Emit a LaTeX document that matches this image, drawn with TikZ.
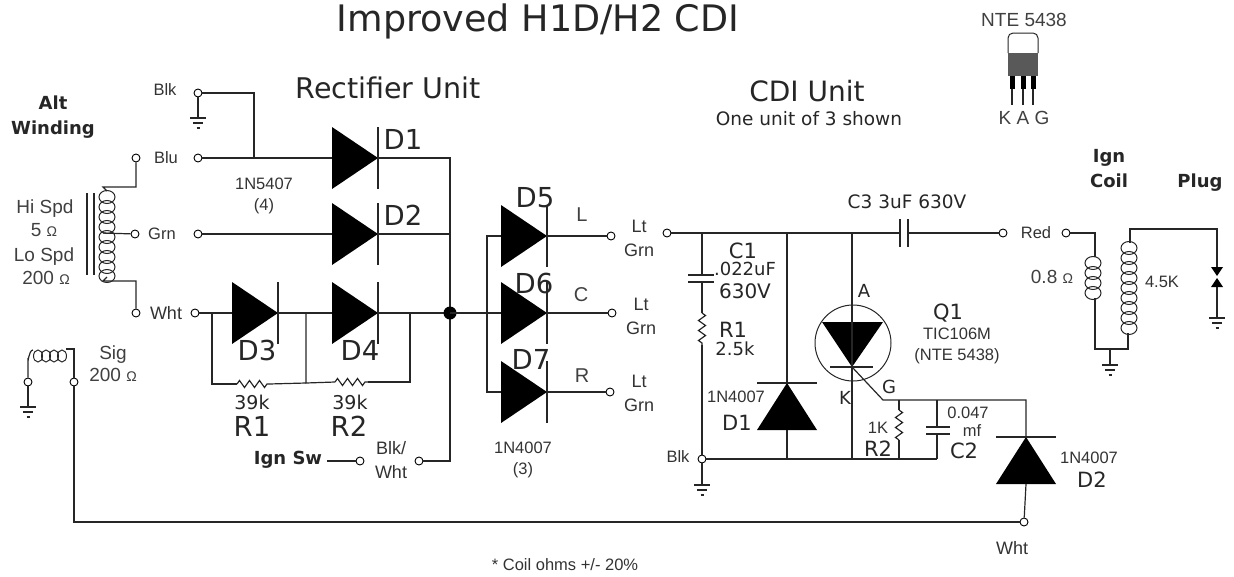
\documentclass[tikz,border=0pt]{standalone}
\usepackage{fontspec}
\setmainfont{DejaVu Sans}
\newfontfamily\msfont{Liberation Sans}
\usetikzlibrary{decorations.pathmorphing}
\newcommand{\ohms}{{\fontsize{14}{14}\selectfont Ω}}
\tikzset{
	term/.style={circle, draw, fill=white, inner sep=0pt, minimum size=8pt, line width=0.9pt},
	hilab/.style={inner sep=0pt, align=center, text=black!75, font=\msfont\fontsize{19}{19}\selectfont},
	lab/.style={inner sep=0pt, align=center, text=black!75, font=\msfont\fontsize{20}{20}\selectfont},
	small/.style={inner sep=0pt, align=center, text=black!80, font=\msfont\fontsize{16.5}{21}\selectfont},
	wirelab/.style={inner sep=0pt, align=center, text=black!80, font=\msfont\fontsize{18}{24}\selectfont},
	part/.style={inner sep=0pt, align=center, text=black!85, font=\fontsize{18}{20}\selectfont},
	mid/.style={inner sep=0pt, align=center, text=black!85, font=\fontsize{21}{21}\selectfont},
	big/.style={inner sep=0pt, align=center, text=black!85, font=\fontsize{27.5}{27}\selectfont},
	head/.style={inner sep=0pt, align=center, text=black!85, font=\bfseries\fontsize{18}{25}\selectfont},
	wire/.style={line width=1.2pt, black!85},
	coilw/.style={line width=1pt, black!85},
	res/.style={wire, decorate, decoration={zigzag, segment length=10pt, amplitude=3.5pt}},
	plate/.style={line width=1.3pt, black!85}
}
\begin{document}
\begin{tikzpicture}[x=1pt, y=-1pt]
	\useasboundingbox (0,0) rectangle (1234,576);

	% Titles
	\node[inner sep=0pt, text=black!85, font=\fontsize{36.5}{36}\selectfont] (title) at (538,21) {Improved H1D/H2 CDI};
	\node[inner sep=0pt, text=black!85, font=\fontsize{28.5}{28}\selectfont] (rectunit) at (388,88) {Rectifier Unit};
	\node[inner sep=0pt, text=black!85, font=\fontsize{28}{28}\selectfont] (cdiunit) at (807,91) {CDI Unit};
	\node[part, font=\fontsize{18.5}{20}\selectfont] (oneunit) at (809,119) {One unit of 3 shown};
	\node[head] (alt) at (53,117) {Alt\\Winding};
	\node[head] (igncoil) at (1109,169) {Ign\\Coil};
	\node[head] (plug) at (1200,183) {Plug};

	% Terminals
	\foreach \n/\x/\y in {blka/198/93, blua/136/158, blub/198/158, grna/135/234, grnb/198/234,
			whta/136/313, whtb/195/313, siga/28/382, sigb/74/382, swa/360/461, swb/419/461,
			outl/611/236, outc/612/313, outr/610/392, ltgrn/667/233, blkc/702/459,
			reda/1003/233, redb/1066/233, whtc/1024/522} {
		\node[term] (\n) at (\x,\y) {};
	}

	% Diodes pointing right
	\foreach \n/\x/\y in {da/332/158, db/332/234, dc/232/313, dd/332/313,
			de/501/236, df/501/313, dg/501/392} {
		\fill[black] (\x,\y-31) -- (\x+46,\y) -- (\x,\y+31) -- cycle;
		\draw[plate] (\x+46,\y-31) -- (\x+46,\y+31);
		\coordinate (\n-in) at (\x,\y);
		\coordinate (\n-out) at (\x+46,\y);
	}

	% Diodes pointing up
	\foreach \n/\x/\y in {dh/787/383, di/1026/437} {
		\fill[black] (\x,\y) -- (\x+30,\y+47) -- (\x-30,\y+47) -- cycle;
		\draw[plate] (\x-30,\y) -- (\x+30,\y);
		\coordinate (\n-in) at (\x,\y+47);
		\coordinate (\n-out) at (\x,\y);
	}

	% Grounds
	\foreach \n/\x/\y in {ga/198/118, gb/28/407, gc/702/485, gd/1110/365, ge/1217/318} {
		\coordinate (\n) at (\x,\y);
		\draw[plate] (\x-8,\y) -- (\x+8,\y);
		\draw[plate] (\x-5,\y+5) -- (\x+5,\y+5);
		\draw[plate] (\x-1.5,\y+10) -- (\x+1.5,\y+10);
	}

	% Rectifier wiring
	\coordinate (blkjoin) at (254,158);
	\coordinate (bus) at (450,313);
	\coordinate (bustop) at (450,158);
	\coordinate (busmid) at (450,234);
	\coordinate (busend) at (450,461);
	\coordinate (sideL) at (212,313);
	\coordinate (sideM) at (306,313);
	\coordinate (sideR) at (410,313);
	\coordinate (r1a) at (237,384);
	\coordinate (r1b) at (269,384);
	\coordinate (sideMb) at (306,383);
	\coordinate (r2a) at (335,382);
	\coordinate (r2b) at (368,382);
	\coordinate (sideRb) at (410,382);
	\draw[wire] (blka) -| (blkjoin);
	\draw[wire] (blub) -- (da-in);
	\draw[wire] (grnb) -- (db-in);
	\draw[wire] (whtb) -- (dc-in);
	\draw[wire] (dc-out) -- (dd-in);
	\draw[wire] (dd-out) -- (bus);
	\draw[wire] (da-out) -- (bustop) -- (busend) -- (swb);
	\draw[wire] (db-out) -- (busmid);
	\draw[wire] (sideL) |- (r1a);
	\draw[res] (r1a) -- (r1b);
	\draw[wire] (r1b) -- (sideMb);
	\draw[wire] (sideM) -- (sideMb) -- (r2a);
	\draw[res] (r2a) -- (r2b);
	\draw[wire] (r2b) -- (sideRb) -- (sideR);
	\fill[black] (bus) circle (6.5pt);
	\draw[wire] (blka) -- (ga);
	\coordinate (swstub) at (327,461);
	\draw[wire] (swstub) -- (swa);

	% Output diodes
	\coordinate (splita) at (487,236);
	\coordinate (splitb) at (487,392);
	\draw[wire] (bus) -- (df-in);
	\draw[wire] (de-in) -- (splita) -- (splitb) -- (dg-in);
	\draw[wire] (de-out) -- (outl);
	\draw[wire] (df-out) -- (outc);
	\draw[wire] (dg-out) -- (outr);

	% Alternator winding
	\coordinate (coiltop) at (103,187);
	\coordinate (coilbot) at (103,281);
	\coordinate (coiltap) at (103,233);
	\coordinate (coilin) at (107,191);
	\coordinate (coilout) at (107,277);
	\draw[wire] (blua) |- (coiltop) -- (coilin);
	\draw[wire] (whta) |- (coilbot) -- (coilout);
	\draw[wire] (coiltap) -- (grna);
	\foreach \y in {197,207,217,227,237,247,257,267,276} {
		\draw[coilw] (107,\y) ellipse (8pt and 6.5pt);
	}
	\coordinate (corea) at (87,193);
	\coordinate (coreb) at (87,275);
	\coordinate (corec) at (94,193);
	\coordinate (cored) at (94,275);
	\draw[plate] (corea) -- (coreb);
	\draw[plate] (corec) -- (cored);

	% Signal coil
	\coordinate (sigl) at (33,350);
	\coordinate (sigr) at (74,349);
	\coordinate (siglow) at (28,360);
	\coordinate (sigrin) at (66,349);
	\draw[wire] (siga) -- (siglow) to[out=-90, in=180] (sigl);
	\draw[wire] (sigb) -- (sigr) -- (sigrin);
	\foreach \x in {38,46,54,62} {
		\draw[coilw] (\x,356) ellipse (4.5pt and 6pt);
	}
	\draw[wire] (siga) -- (gb);
	\draw[wire] (sigb) |- (whtc);

	% CDI top rail
	\coordinate (c1top) at (702,233);
	\coordinate (d1top) at (787,233);
	\coordinate (scrtop) at (852,233);
	\coordinate (c3a) at (900,233);
	\coordinate (c3b) at (908,233);
	\draw[wire] (ltgrn) -- (c3a);
	\draw[wire] (c3b) -- (reda);
	\draw[plate] (c3a) ++(0,-14) -- ++(0,28);
	\draw[plate] (c3b) ++(0,-14) -- ++(0,28);

	% C1 and R1
	\coordinate (c1a) at (702,275);
	\coordinate (c1b) at (702,282);
	\coordinate (r1ca) at (702,313);
	\coordinate (r1cb) at (702,345);
	\draw[wire] (c1top) -- (c1a);
	\draw[plate] (c1a) ++(-14,0) -- ++(26,0);
	\draw[plate] (c1b) ++(-14,0) -- ++(26,0);
	\draw[wire] (c1b) -- (r1ca);
	\draw[res] (r1ca) -- (r1cb);
	\draw[wire] (r1cb) -- (blkc);
	\draw[wire] (blkc) -- (gc);

	% Bottom rail and D1
	\coordinate (railend) at (937,459);
	\coordinate (d1bot) at (787,459);
	\coordinate (scrbot) at (852,459);
	\draw[wire] (blkc) -- (railend);
	\draw[wire] (d1top) -- (dh-out);
	\draw[wire] (dh-in) -- (d1bot);

	% Thyristor Q1
	\node[circle, draw, black!85, line width=1pt, inner sep=0pt, minimum size=76pt] (scr) at (853,343) {};
	\coordinate (scrtip) at (852,367);
	\fill[black] (822,322) -- (883,322) -- (scrtip) -- cycle;
	\draw[plate] (830,367) -- (873,367);
	\draw[wire] (scrtop) -- (scrbot);

	% Gate, R2, C2, D2
	\coordinate (gatea) at (883,400);
	\coordinate (gateend) at (1026,400);
	\coordinate (r2ctop) at (899,400);
	\coordinate (r2ca) at (899,410);
	\coordinate (r2cb) at (899,440);
	\coordinate (r2cbot) at (899,459);
	\coordinate (c2top) at (937,400);
	\coordinate (c2a) at (937,427);
	\coordinate (c2b) at (937,434);
	\draw[wire] (scrtip) -- (gatea) -- (gateend) -- (di-out);
	\draw[wire] (r2ctop) -- (r2ca);
	\draw[res] (r2ca) -- (r2cb);
	\draw[wire] (r2cb) -- (r2cbot);
	\draw[wire] (c2top) -- (c2a);
	\draw[plate] (c2a) ++(-11,0) -- ++(24,0);
	\draw[plate] (c2b) ++(-11,0) -- ++(24,0);
	\draw[wire] (c2b) -- (railend);
	\draw[wire] (di-in) -- (whtc);

	% Ignition coil
	\coordinate (pria) at (1095,257);
	\coordinate (prib) at (1095,298);
	\coordinate (prig) at (1095,349);
	\coordinate (secg) at (1128,349);
	\coordinate (secb) at (1128,333);
	\coordinate (seca) at (1130,243);
	\coordinate (sectop) at (1130,229);
	\coordinate (plugtop) at (1217,229);
	\coordinate (plugup) at (1217,267);
	\coordinate (plugdown) at (1217,287);
	\coordinate (coilgnd) at (1110,349);
	\draw[wire] (redb) -| (pria);
	\draw[wire] (prib) -- (prig) -- (secg) -- (secb);
	\draw[wire] (seca) -- (sectop) -- (plugtop) -- (plugup);
	\draw[wire] (plugdown) -- (ge);
	\draw[wire] (coilgnd) -- (gd);
	\foreach \y in {263,273,283,293} {
		\draw[coilw] (1093,\y) ellipse (8pt and 6.5pt);
	}
	\foreach \y in {248,258,268,278,288,298,308,318,328} {
		\draw[coilw] (1129,\y) ellipse (8pt and 6.5pt);
	}

	% Spark plug
	\fill[black] (1211,267) -- (1223,267) -- (1217,276) -- cycle;
	\fill[black] (1211,287) -- (1223,287) -- (1217,278) -- cycle;

	% NTE 5438 package
	\node[hilab] (nte) at (1024,20) {NTE 5438};
	\draw[line width=1pt, black!85, rounded corners=5pt] (1008,53) -- (1008,33) -- (1038,33) -- (1038,53);
	\fill[black!65] (1008,53) rectangle (1038,76);
	\foreach \n/\x in {pk/1012, pa/1023, pg/1033} {
		\fill[black] (\x-2.5,76) rectangle (\x+2.5,89);
		\draw[wire] (\x,89) -- (\x,105);
	}
	\node[hilab] (kag) at (1024,118) {K A G};

	% Wire colour labels
	\node[small] (lblk) at (165,90) {Blk};
	\node[small] (lblu) at (166,158) {Blu};
	\node[small] (lgrn) at (162,234) {Grn};
	\node[wirelab] (lwht) at (166,313) {Wht};
	\node[hilab] (hispd) at (45,209) {Hi Spd};
	\node[hilab] (hiohm) at (44,230) {5 \ohms};
	\node[hilab] (lospd) at (44,257) {Lo Spd};
	\node[hilab] (loohm) at (46,278) {200 \ohms};
	\node[hilab] (lsig) at (113,355) {Sig};
	\node[hilab] (lsigohm) at (113,375) {200 \ohms};
	\node[wirelab] (lblkw) at (391,460) {Blk/\\Wht};
	\node[head] (ignsw) at (288,460) {Ign Sw};
	\node[small] (l5407) at (264,196) {1N5407\\(4)};
	\node[small] (l4007) at (523,460) {1N4007\\(3)};
	\node[wirelab] (lltl) at (639,238) {Lt\\Grn};
	\node[wirelab] (lltc) at (641,316) {Lt\\Grn};
	\node[wirelab] (lltr) at (639,393) {Lt\\Grn};
	\node[lab] (ll) at (582,215) {L};
	\node[lab] (lc) at (581,295) {C};
	\node[lab] (lr) at (582,376) {R};
	\node[small] (lblkc) at (678,457) {Blk};
	\node[small] (lred) at (1036,233) {Red};
	\node[wirelab] (lwhtb) at (1012,548) {Wht};

	% Part labels
	\node[big] (tda) at (403,139) {D1};
	\node[big] (tdb) at (403,215) {D2};
	\node[big] (tdc) at (257,350) {D3};
	\node[big] (tdd) at (360,350) {D4};
	\node[big] (tde) at (535,198) {D5};
	\node[big] (tdf) at (534,283) {D6};
	\node[big] (tdg) at (531,359) {D7};
	\node[part, font=\fontsize{19}{20}\selectfont] (tr1v) at (252,402) {39k};
	\node[part, font=\fontsize{19}{20}\selectfont] (tr2v) at (350,402) {39k};
	\node[big] (tr1) at (252,426) {R1};
	\node[big] (tr2) at (349,426) {R2};
	\node[part, font=\fontsize{18.5}{20}\selectfont] (tc3) at (907,202) {C3 3uF 630V};
	\node[mid] (tc1) at (743,251) {C1};
	\node[part] (tc1v) at (745,269) {.022uF};
	\node[part, font=\fontsize{20}{20}\selectfont] (tc1w) at (745,291) {630V};
	\node[mid] (tr1c) at (733,330) {R1};
	\node[part] (tr1cv) at (735,349) {2.5k};
	\node[small] (td1c) at (736,397) {1N4007};
	\node[mid] (td1n) at (737,423) {D1};
	\node[part] (ta) at (864,291) {A};
	\node[mid] (tq1) at (948,313) {Q1};
	\node[small] (ttic) at (957,346) {TIC106M\\(NTE 5438)};
	\node[part] (tk) at (845,398) {K};
	\node[part] (tg) at (889,387) {G};
	\node[small] (t1k) at (878,428) {1K};
	\node[mid] (tr2c) at (878,449) {R2};
	\node[small] (t047) at (968,413) {0.047};
	\node[small] (tmf) at (972,431) {mf};
	\node[mid] (tc2) at (964,451) {C2};
	\node[small] (td2c) at (1089,458) {1N4007};
	\node[mid] (td2n) at (1092,480) {D2};
	\node[hilab] (t08) at (1052,277) {0.8 \ohms};
	\node[small] (t45) at (1162,282) {4.5K};
	\node[small] (tnote) at (565,565) {* Coil ohms +/- 20\%};
\end{tikzpicture}
\end{document}
